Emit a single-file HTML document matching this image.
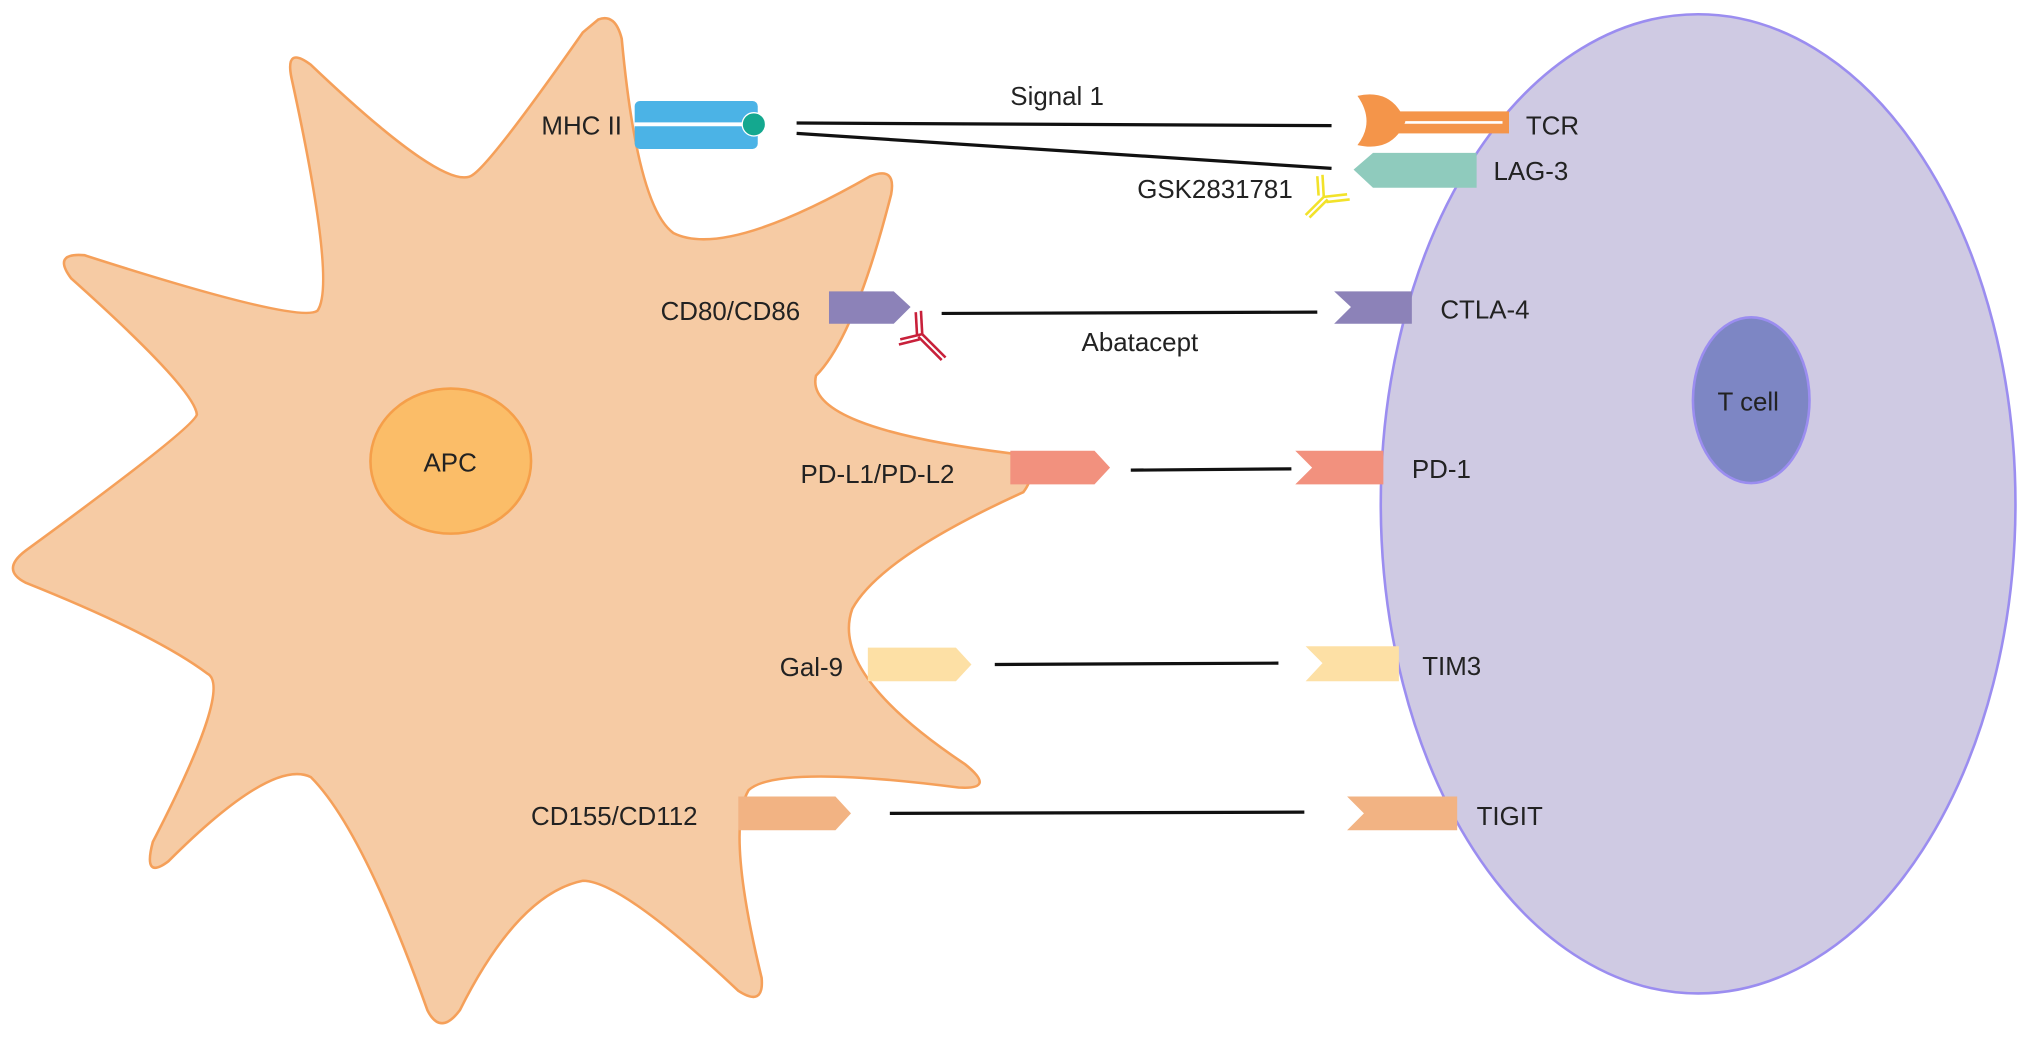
<!DOCTYPE html>
<html><head><style>html,body{margin:0;padding:0;background:#fff;}svg{display:block}</style></head>
<body>
<svg width="2031" height="1042" viewBox="0 0 1568 804.5" preserveAspectRatio="none" xmlns="http://www.w3.org/2000/svg" font-family="Liberation Sans, Arial, sans-serif" font-size="20" fill="#222">
<!-- T cell -->
<ellipse cx="1311" cy="389" rx="245" ry="378" fill="#cfcae3" stroke="#9b8df0" stroke-width="2"/>
<ellipse cx="1352" cy="309" rx="45" ry="64" fill="#7d86c4" stroke="#9b8df0" stroke-width="2"/>
<!-- APC star -->
<path d="M462,15 Q475,10 480,30 Q492,160 520,180 Q560,200 672,136 Q692,128 688,150 Q660,260 630,290 Q620,330 780,350 Q805,360 790,380 Q680,430 658,470 Q640,520 745,590 Q770,610 740,608 Q600,590 578,610 Q560,640 588,755 Q590,778 570,765 Q480,680 450,680 Q400,690 355,780 Q340,800 330,780 Q280,640 240,600 Q210,585 130,665 Q110,680 118,650 Q180,530 160,520 Q120,490 20,450 Q0,440 20,425 Q150,330 152,320 Q150,300 55,215 Q40,195 65,197 Q230,250 245,240 Q260,220 225,60 Q220,35 240,50 Q345,150 365,135 Q380,125 450,25 Z" fill="#f6cba4" stroke="#f5a05a" stroke-width="2"/>
<ellipse cx="348" cy="356" rx="62" ry="56" fill="#fbbd68" stroke="#f59f4a" stroke-width="2"/>
<!-- MHC II -->
<rect x="490" y="78" width="95" height="37" rx="4" fill="#4bb3e6"/>
<line x1="490" y1="96" x2="578" y2="96" stroke="#fff" stroke-width="3"/>
<circle cx="582" cy="96" r="9" fill="#14a88f" stroke="#fff" stroke-width="1"/>
<!-- lines -->
<g stroke="#111" stroke-width="2.5">
<line x1="615" y1="95" x2="1028" y2="97"/>
<line x1="615" y1="103" x2="1028" y2="130"/>
<line x1="727" y1="242" x2="1017" y2="241"/>
<line x1="873" y1="363" x2="997" y2="362"/>
<line x1="768" y1="513" x2="987" y2="512"/>
<line x1="687" y1="628" x2="1007" y2="627"/>
</g>
<!-- TCR -->
<rect x="1070" y="86" width="95" height="17" fill="#f4954a"/>
<line x1="1065" y1="94.5" x2="1160" y2="94.5" stroke="#fff" stroke-width="2"/>
<path d="M1048,74 Q1075,68 1085,94 Q1075,118 1048,112 Q1062,94 1048,74 Z" fill="#f4954a"/>
<!-- LAG-3 -->
<polygon points="1045,131 1060,118 1140,118 1140,145 1060,145" fill="#8fcbbd"/>
<!-- ligands -->
<polygon points="640,225 690,225 703,237 690,250 640,250" fill="#8c82b8"/>
<polygon points="1030,225 1090,225 1090,250 1030,250 1043,237" fill="#8c82b8"/>
<polygon points="780,348 845,348 857,361 845,374 780,374" fill="#f2917e"/>
<polygon points="1000,348 1068,348 1068,374 1000,374 1013,361" fill="#f2917e"/>
<polygon points="670,500 738,500 750,513 738,526 670,526" fill="#fde0a5"/>
<polygon points="1008,499 1080,499 1080,526 1008,526 1021,512" fill="#fde0a5"/>
<polygon points="570,615 645,615 657,628 645,641 570,641" fill="#f2b383"/>
<polygon points="1040,615 1125,615 1125,641 1040,641 1053,628" fill="#f2b383"/>
<!-- antibodies -->
<g stroke="#c8203a" stroke-width="2" fill="none">
<line x1="712" y1="258" x2="730" y2="276"/><line x1="709" y1="260" x2="727" y2="278"/>
<line x1="712" y1="258" x2="711" y2="240"/><line x1="708" y1="259" x2="707" y2="241"/>
<line x1="712" y1="258" x2="695" y2="262"/><line x1="710" y1="262" x2="694" y2="266"/>
</g>
<g stroke="#f2e22a" stroke-width="2" fill="none">
<line x1="1022" y1="152" x2="1008" y2="166"/><line x1="1025" y1="154" x2="1011" y2="168"/>
<line x1="1022" y1="152" x2="1021" y2="135"/><line x1="1018" y1="151" x2="1017" y2="136"/>
<line x1="1022" y1="152" x2="1040" y2="150"/><line x1="1024" y1="156" x2="1042" y2="154"/>
</g>
<!-- labels -->
<text x="418" y="104">MHC II</text>
<text x="780" y="81">Signal 1</text>
<text x="1178" y="104">TCR</text>
<text x="1153" y="139">LAG-3</text>
<text x="878" y="153">GSK2831781</text>
<text x="510" y="247">CD80/CD86</text>
<text x="835" y="271">Abatacept</text>
<text x="1112" y="246">CTLA-4</text>
<text x="1326" y="317">T cell</text>
<text x="327" y="364">APC</text>
<text x="618" y="373">PD-L1/PD-L2</text>
<text x="1090" y="369">PD-1</text>
<text x="602" y="522">Gal-9</text>
<text x="1098" y="521">TIM3</text>
<text x="410" y="637">CD155/CD112</text>
<text x="1140" y="637">TIGIT</text>
</svg>
</body></html>
